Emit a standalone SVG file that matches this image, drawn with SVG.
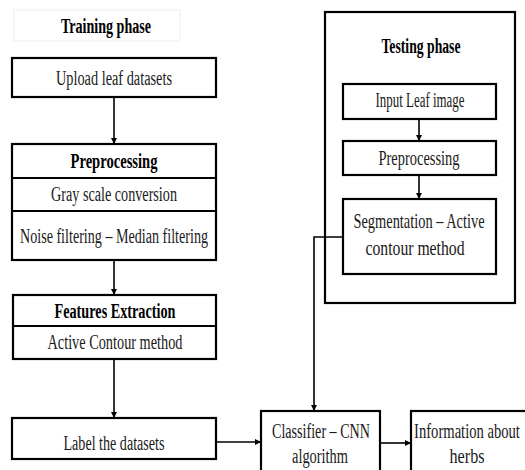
<svg xmlns="http://www.w3.org/2000/svg" width="525" height="470" viewBox="0 0 525 470">
<defs>
<marker id="ah" viewBox="0 0 10 10" refX="10" refY="5" markerWidth="4" markerHeight="4" orient="auto" markerUnits="strokeWidth">
<path d="M0,0 L10,5 L0,10 z" fill="#000"/>
</marker>
<style>
.b{fill:#fff;stroke:#000;stroke-width:2.2}
.d{stroke:#000;stroke-width:2.2;fill:none}
text{font-family:'Liberation Serif','Times New Roman',serif;font-size:20px;fill:#1a1a1a;text-anchor:middle}
.h{font-weight:bold;fill:#000}
.c{stroke:#000;stroke-width:1.6;fill:none;marker-end:url(#ah)}
</style>
</defs>
<rect width="525" height="470" fill="#fff"/>

<g id="training-title">
<rect x="14" y="10" width="166" height="31" fill="#fff" stroke="#eeeeee" stroke-width="1"/>
<text class="h" x="106" y="33" textLength="90" lengthAdjust="spacingAndGlyphs">Training phase</text>
</g>

<g id="upload">
<rect class="b" x="12" y="58" width="204" height="39"/>
<text x="114" y="85" textLength="116" lengthAdjust="spacingAndGlyphs">Upload leaf datasets</text>
</g>

<g id="preprocessing">
<rect class="b" x="12" y="144" width="204" height="116"/>
<line class="d" x1="12" y1="178" x2="216" y2="178"/>
<line class="d" x1="12" y1="211" x2="216" y2="211"/>
<text class="h" x="114" y="168" textLength="87" lengthAdjust="spacingAndGlyphs">Preprocessing</text>
<text x="114" y="201" textLength="126" lengthAdjust="spacingAndGlyphs">Gray scale conversion</text>
<text x="114" y="243" textLength="188" lengthAdjust="spacingAndGlyphs">Noise filtering – Median filtering</text>
</g>

<g id="features">
<rect class="b" x="13" y="295" width="203" height="64"/>
<line class="d" x1="13" y1="326" x2="216" y2="326"/>
<text class="h" x="115" y="318" textLength="121" lengthAdjust="spacingAndGlyphs">Features Extraction</text>
<text x="115" y="349" textLength="135" lengthAdjust="spacingAndGlyphs">Active Contour method</text>
</g>

<g id="label">
<rect class="b" x="12" y="418" width="204" height="41"/>
<text x="114" y="450" textLength="101" lengthAdjust="spacingAndGlyphs">Label the datasets</text>
</g>

<g id="testing">
<rect class="b" x="325" y="12" width="190" height="291"/>
<text class="h" x="421" y="53" textLength="79" lengthAdjust="spacingAndGlyphs">Testing phase</text>
</g>

<g id="input-leaf">
<rect class="b" x="343" y="84" width="153" height="35"/>
<text x="420" y="107" textLength="89" lengthAdjust="spacingAndGlyphs">Input Leaf image</text>
</g>

<g id="test-preprocessing">
<rect class="b" x="343" y="141" width="153" height="34"/>
<text x="419" y="165" textLength="81" lengthAdjust="spacingAndGlyphs">Preprocessing</text>
</g>

<g id="segmentation">
<rect class="b" x="343" y="199" width="153" height="75"/>
<text transform="translate(419,228) scale(0.72,1)" x="0" y="0" textLength="182" lengthAdjust="spacingAndGlyphs">Segmentation – Active</text>
<text x="415" y="255" textLength="99" lengthAdjust="spacingAndGlyphs">contour method</text>
</g>

<g id="classifier">
<rect class="b" x="261" y="411" width="119" height="70"/>
<text x="321" y="438" textLength="98" lengthAdjust="spacingAndGlyphs">Classifier – CNN</text>
<text x="320" y="463" textLength="56" lengthAdjust="spacingAndGlyphs">algorithm</text>
</g>

<g id="information">
<rect class="b" x="411" y="411" width="122" height="70"/>
<text transform="translate(467,438) scale(0.73,1)" x="0" y="0" textLength="145" lengthAdjust="spacingAndGlyphs">Information about</text>
<text x="467" y="463" textLength="35" lengthAdjust="spacingAndGlyphs">herbs</text>
</g>

<g id="connectors">
<line class="c" x1="114" y1="97" x2="114" y2="144"/>
<line class="c" x1="114" y1="260" x2="114" y2="295"/>
<line class="c" x1="114" y1="359" x2="114" y2="418"/>
<line class="c" x1="216" y1="442" x2="261" y2="442"/>
<line class="c" x1="380" y1="443" x2="411" y2="443"/>
<line class="c" x1="419" y1="119" x2="419" y2="141"/>
<line class="c" x1="419" y1="175" x2="419" y2="199"/>
<polyline class="c" points="343,237 314,237 314,411"/>
</g>
</svg>
